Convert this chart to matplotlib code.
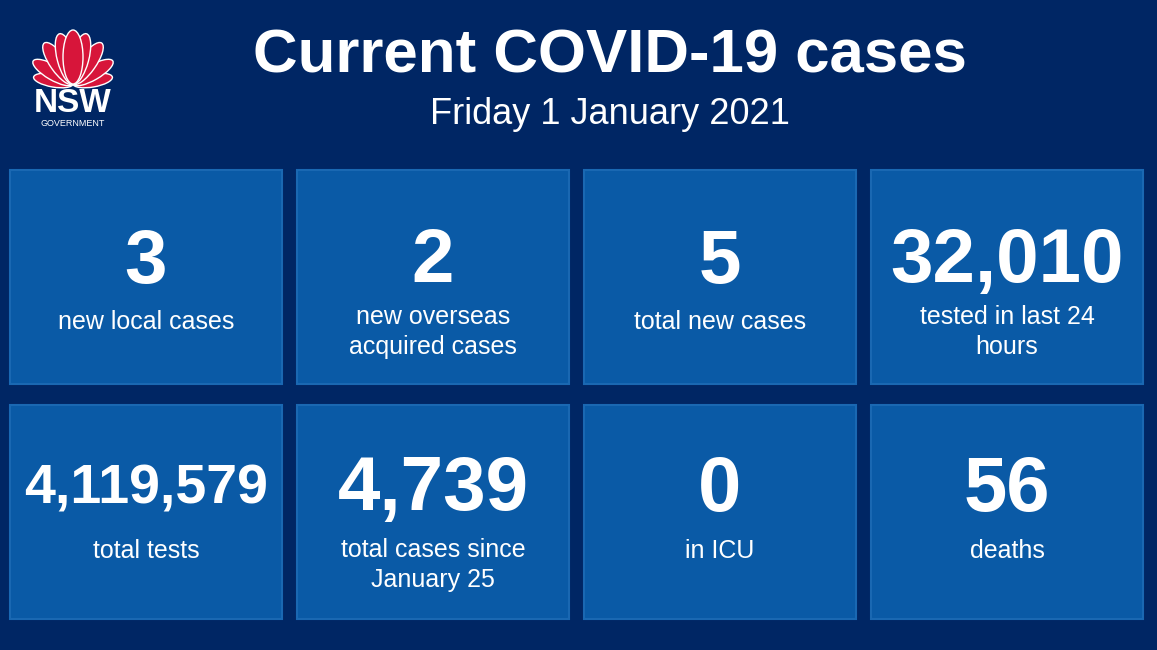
import matplotlib
matplotlib.use("Agg")
import matplotlib.pyplot as plt
from matplotlib.patches import Rectangle, Ellipse
import numpy as np

title = "Current COVID-19 cases"
subtitle = "Friday 1 January 2021"
values = ["3", "2", "5", "32,010", "4,119,579", "4,739", "0", "56"]
labels = ["new local cases", "new overseas\nacquired cases", "total new cases",
          "tested in last 24\nhours", "total tests", "total cases since\nJanuary 25",
          "in ICU", "deaths"]
value_sizes = [55, 55, 55, 55, 40, 55, 56, 56]

BG = "#002664"; TILE = "#0a5aa6"; EDGE = "#1a68b2"
plt.rcParams['font.family'] = ['Liberation Sans', 'DejaVu Sans']
fig = plt.figure(figsize=(11.57, 6.5), dpi=100, facecolor=BG)
ax = fig.add_axes([0, 0, 1, 1])
ax.set_xlim(0, 1157); ax.set_ylim(650, 0); ax.axis('off')
ax.add_patch(Rectangle((0, 0), 1157, 650, color=BG))

cols = [10, 297, 584, 871]; rows = [170, 405]; w, h = 272, 214
num_y = [263, 490]; lab_y = [322, 551]
for i, (v, l) in enumerate(zip(values, labels)):
    r, c = divmod(i, 4)
    x0, y0 = cols[c], rows[r]
    ax.add_patch(Rectangle((x0, y0), w, h, facecolor=TILE, edgecolor=EDGE, lw=1.5))
    cx = x0 + w / 2
    ax.text(cx, num_y[r], v, color='white', fontsize=value_sizes[i], fontweight='bold',
            ha='center', va='center')
    ly = lab_y[r] + (10 if r == 0 and "\n" in l else 0) + (14 if r == 1 and "\n" in l else 0)
    ax.text(cx, ly, l, color='white', fontsize=18, ha='center', va='center', linespacing=1.3)

ax.text(610, 57, title, color='white', fontsize=44.5, fontweight='bold', ha='center', va='center')
ax.text(610, 114, subtitle, color='white', fontsize=26, ha='center', va='center')

# simplified waratah logo
red = "#d7153a"
bx, by = 73, 84
for ang, ln, wd in [(-80, 40, 13), (80, 40, 13), (-60, 46, 15), (60, 46, 15),
                    (-35, 50, 17), (35, 50, 17), (-15, 52, 18), (15, 52, 18), (0, 54, 20)]:
    a = np.deg2rad(ang)
    cx = bx + np.sin(a) * ln / 2
    cy = by - np.cos(a) * ln / 2
    ax.add_patch(Ellipse((cx, cy), wd, ln, angle=ang, facecolor=red, edgecolor='white', lw=1.0))
ax.text(73, 104, "NSW", color='white', fontsize=24, fontweight='bold', ha='center', va='center')
ax.text(73, 124, "GOVERNMENT", color='white', fontsize=6.5, ha='center', va='center')

fig.savefig("out.png", dpi=100, facecolor=BG)
